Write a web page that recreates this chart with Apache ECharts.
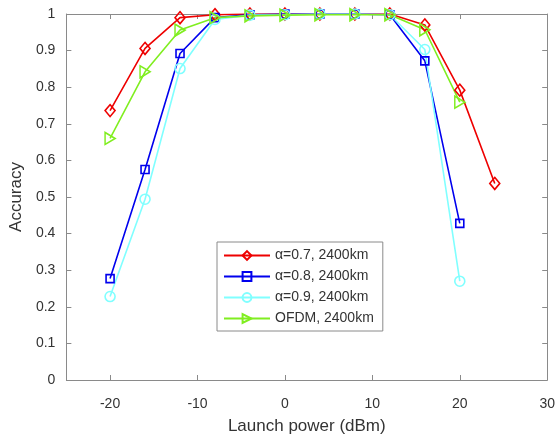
<!DOCTYPE html>
<html>
<head>
<meta charset="utf-8">
<script src="https://cdn.jsdelivr.net/npm/echarts@6/dist/echarts.min.js"></script>
<style>
  html, body { margin: 0; padding: 0; background: #fff; }
  #chart { width: 558px; height: 440px; }
</style>
</head>
<body>
<div id="chart"></div>
<script>
// Launch power sweep (dBm)
const powerLong = [-20, -16, -12, -8, -4, 0, 4, 8, 12, 16, 20, 24];
const power = [-20, -16, -12, -8, -4, 0, 4, 8, 12, 16, 20];

// Classification accuracy after 2400 km
const acc07 = [0.736, 0.906, 0.990, 0.998, 1.000, 1.000, 1.000, 1.000, 1.000, 0.970, 0.792, 0.537];
const acc08 = [0.277, 0.575, 0.892, 0.990, 0.998, 1.000, 1.000, 1.000, 0.998, 0.872, 0.428];
const acc09 = [0.228, 0.494, 0.851, 0.985, 0.997, 0.998, 1.000, 1.000, 0.998, 0.903, 0.270];
const accOfdm = [0.660, 0.842, 0.956, 0.990, 0.995, 0.997, 0.998, 0.998, 0.998, 0.957, 0.759];

const seriesNames = ['α=0.7, 2400km', 'α=0.8, 2400km', 'α=0.9, 2400km', 'OFDM, 2400km'];
const xTicks = [-20, -10, 0, 10, 20, 30];

const FONT = 'Liberation Sans, Arial, sans-serif';
const TEXT = '#333333';
const AXIS = '#8a8a8a';

function pairs(xs, ys) {
  return xs.map((x, i) => [x, ys[i]]);
}

function lineSeries(name, xs, ys, color, symbol, size, rotate) {
  return {
    name: name,
    type: 'line',
    data: pairs(xs, ys),
    symbol: symbol,
    symbolSize: size,
    symbolRotate: rotate || 0,
    showAllSymbol: true,
    lineStyle: { color: color, width: 1.6 },
    itemStyle: { color: 'rgba(255,255,255,0)', borderColor: color, borderWidth: 1.6 },
    emphasis: { disabled: true },
    animation: false
  };
}

const chart = echarts.init(document.getElementById('chart'), null, { renderer: 'canvas' });

const tickStyle = { show: true, inside: true, length: 5, lineStyle: { color: AXIS } };
const lineAxis = { show: true, onZero: false, lineStyle: { color: AXIS, width: 1 } };

chart.setOption({
  backgroundColor: '#ffffff',
  animation: false,
  textStyle: { fontFamily: FONT },
  grid: { left: 65, right: 10, top: 14, bottom: 55, containLabel: false },
  xAxis: [
    {
      type: 'value', min: -25, max: 30, interval: 5,
      position: 'bottom',
      axisLine: lineAxis,
      axisTick: Object.assign({ customValues: xTicks }, tickStyle),
      axisLabel: { customValues: xTicks, color: TEXT, fontSize: 14, fontFamily: FONT, margin: 17 },
      splitLine: { show: false },
      name: 'Launch power (dBm)', nameLocation: 'middle', nameGap: 38,
      nameTextStyle: { color: TEXT, fontSize: 17, fontFamily: FONT }
    },
    {
      type: 'value', min: -25, max: 30, interval: 5,
      position: 'top',
      axisLine: lineAxis,
      axisTick: Object.assign({ customValues: xTicks }, tickStyle),
      axisLabel: { show: false },
      splitLine: { show: false }
    }
  ],
  yAxis: [
    {
      type: 'value', min: 0, max: 1, interval: 0.1,
      position: 'left',
      axisLine: lineAxis,
      axisTick: tickStyle,
      axisLabel: {
        color: TEXT, fontSize: 14, fontFamily: FONT, margin: 11,
        formatter: v => String(+v.toFixed(1))
      },
      splitLine: { show: false },
      name: 'Accuracy', nameLocation: 'middle', nameGap: 28, nameRotate: 90,
      nameTextStyle: { color: TEXT, fontSize: 17, fontFamily: FONT }
    },
    {
      type: 'value', min: 0, max: 1, interval: 0.1,
      position: 'right',
      axisLine: lineAxis,
      axisTick: tickStyle,
      axisLabel: { show: false },
      splitLine: { show: false }
    }
  ],
  legend: {
    orient: 'vertical',
    left: 217, top: 242,
    padding: [6, 9, 5, 6],
    itemWidth: 46, itemHeight: 11, itemGap: 6,
    backgroundColor: '#ffffff',
    borderColor: AXIS, borderWidth: 1, borderRadius: 0,
    textStyle: { color: TEXT, fontSize: 14, fontFamily: FONT, lineHeight: 15 },
    selectedMode: false,
    data: seriesNames
  },
  series: [
    lineSeries(seriesNames[0], powerLong, acc07, '#ee0000', 'diamond', [10, 12]),
    lineSeries(seriesNames[1], power, acc08, '#0000ee', 'rect', 8),
    lineSeries(seriesNames[2], power, acc09, '#80ffff', 'circle', 10),
    lineSeries(seriesNames[3], power, accOfdm, '#80ee20', 'triangle', [12, 10], -90)
  ]
});
</script>
</body>
</html>
